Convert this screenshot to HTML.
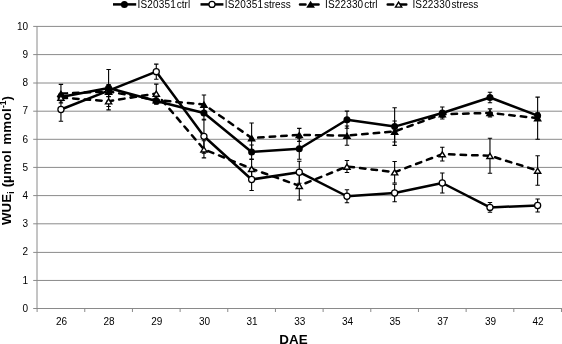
<!DOCTYPE html>
<html><head><meta charset="utf-8"><title>chart</title><style>html,body{margin:0;padding:0;background:#fff}body{width:562px;height:344px;overflow:hidden;font-family:"Liberation Sans",sans-serif}</style></head><body>
<svg width="562" height="344" viewBox="0 0 562 344" style="display:block;will-change:transform">
<rect width="562" height="344" fill="#fff"/>
<line x1="33.2" y1="280.45" x2="562" y2="280.45" stroke="#8a8a8a" stroke-width="1"/>
<line x1="33.2" y1="252.40" x2="562" y2="252.40" stroke="#8a8a8a" stroke-width="1"/>
<line x1="33.2" y1="223.80" x2="562" y2="223.80" stroke="#8a8a8a" stroke-width="1"/>
<line x1="33.2" y1="195.60" x2="562" y2="195.60" stroke="#8a8a8a" stroke-width="1"/>
<line x1="33.2" y1="167.40" x2="562" y2="167.40" stroke="#8a8a8a" stroke-width="1"/>
<line x1="33.2" y1="139.30" x2="562" y2="139.30" stroke="#8a8a8a" stroke-width="1"/>
<line x1="33.2" y1="111.20" x2="562" y2="111.20" stroke="#8a8a8a" stroke-width="1"/>
<line x1="33.2" y1="83.00" x2="562" y2="83.00" stroke="#8a8a8a" stroke-width="1"/>
<line x1="33.2" y1="54.60" x2="562" y2="54.60" stroke="#8a8a8a" stroke-width="1"/>
<line x1="33.2" y1="26.40" x2="562" y2="26.40" stroke="#8a8a8a" stroke-width="1"/>
<line x1="37.0" y1="26" x2="37.0" y2="309.0" stroke="#8a8a8a" stroke-width="1"/>
<line x1="33.2" y1="308.5" x2="562" y2="308.5" stroke="#8a8a8a" stroke-width="1"/>
<line x1="37.10" y1="308.5" x2="37.10" y2="312.0" stroke="#8a8a8a" stroke-width="1"/>
<line x1="84.77" y1="308.5" x2="84.77" y2="312.0" stroke="#8a8a8a" stroke-width="1"/>
<line x1="132.44" y1="308.5" x2="132.44" y2="312.0" stroke="#8a8a8a" stroke-width="1"/>
<line x1="180.11" y1="308.5" x2="180.11" y2="312.0" stroke="#8a8a8a" stroke-width="1"/>
<line x1="227.78" y1="308.5" x2="227.78" y2="312.0" stroke="#8a8a8a" stroke-width="1"/>
<line x1="275.45" y1="308.5" x2="275.45" y2="312.0" stroke="#8a8a8a" stroke-width="1"/>
<line x1="323.12" y1="308.5" x2="323.12" y2="312.0" stroke="#8a8a8a" stroke-width="1"/>
<line x1="370.79" y1="308.5" x2="370.79" y2="312.0" stroke="#8a8a8a" stroke-width="1"/>
<line x1="418.46" y1="308.5" x2="418.46" y2="312.0" stroke="#8a8a8a" stroke-width="1"/>
<line x1="466.13" y1="308.5" x2="466.13" y2="312.0" stroke="#8a8a8a" stroke-width="1"/>
<line x1="513.80" y1="308.5" x2="513.80" y2="312.0" stroke="#8a8a8a" stroke-width="1"/>
<line x1="561.47" y1="308.5" x2="561.47" y2="312.0" stroke="#8a8a8a" stroke-width="1"/>
<g font-family="Liberation Sans, sans-serif" font-size="10" fill="#000">
<text x="28" y="311.80" text-anchor="end">0</text>
<text x="28" y="283.60" text-anchor="end">1</text>
<text x="28" y="255.40" text-anchor="end">2</text>
<text x="28" y="227.20" text-anchor="end">3</text>
<text x="28" y="199.00" text-anchor="end">4</text>
<text x="28" y="170.80" text-anchor="end">5</text>
<text x="28" y="142.60" text-anchor="end">6</text>
<text x="28" y="114.40" text-anchor="end">7</text>
<text x="28" y="86.20" text-anchor="end">8</text>
<text x="28" y="58.00" text-anchor="end">9</text>
<text x="28" y="29.80" text-anchor="end">10</text>
<text x="61.44" y="325.3" text-anchor="middle">26</text>
<text x="109.10" y="325.3" text-anchor="middle">28</text>
<text x="156.78" y="325.3" text-anchor="middle">29</text>
<text x="204.44" y="325.3" text-anchor="middle">30</text>
<text x="252.12" y="325.3" text-anchor="middle">31</text>
<text x="299.79" y="325.3" text-anchor="middle">33</text>
<text x="347.46" y="325.3" text-anchor="middle">34</text>
<text x="395.13" y="325.3" text-anchor="middle">35</text>
<text x="442.80" y="325.3" text-anchor="middle">37</text>
<text x="490.47" y="325.3" text-anchor="middle">39</text>
<text x="538.13" y="325.3" text-anchor="middle">42</text>
</g>
<text x="293.5" y="343.5" text-anchor="middle" font-family="Liberation Sans, sans-serif" font-weight="bold" font-size="13.4">DAE</text>
<text transform="translate(11.2 225) rotate(-90)" font-family="Liberation Sans, sans-serif" font-weight="bold" font-size="13.3">WUE<tspan font-size="8.5" dy="2.5" dx="0.3">i</tspan><tspan dy="-2.5" dx="0.3"> (</tspan><tspan letter-spacing="0.45">µmol</tspan><tspan dx="1" letter-spacing="0.3"> mmol</tspan><tspan font-size="8.5" dy="-5">-1</tspan><tspan dy="5">)</tspan></text>
<path d="M60.94 93.50V100.50M58.73 93.50h4.4M58.73 100.50h4.4" stroke="#000" stroke-width="1.1" fill="none"/>
<path d="M108.60 69.50V106.50M106.40 69.50h4.4M106.40 106.50h4.4" stroke="#000" stroke-width="1.1" fill="none"/>
<path d="M156.28 98.00V104.00M154.08 98.00h4.4M154.08 104.00h4.4" stroke="#000" stroke-width="1.1" fill="none"/>
<path d="M203.94 106.00V120.00M201.75 106.00h4.4M201.75 120.00h4.4" stroke="#000" stroke-width="1.1" fill="none"/>
<path d="M251.62 145.00V159.00M249.42 145.00h4.4M249.42 159.00h4.4" stroke="#000" stroke-width="1.1" fill="none"/>
<path d="M299.29 138.25V159.25M297.09 138.25h4.4M297.09 159.25h4.4" stroke="#000" stroke-width="1.1" fill="none"/>
<path d="M346.96 111.10V128.30M344.76 111.10h4.4M344.76 128.30h4.4" stroke="#000" stroke-width="1.1" fill="none"/>
<path d="M394.63 107.80V145.40M392.43 107.80h4.4M392.43 145.40h4.4" stroke="#000" stroke-width="1.1" fill="none"/>
<path d="M442.30 107.00V119.00M440.10 107.00h4.4M440.10 119.00h4.4" stroke="#000" stroke-width="1.1" fill="none"/>
<path d="M489.97 92.30V102.70M487.77 92.30h4.4M487.77 102.70h4.4" stroke="#000" stroke-width="1.1" fill="none"/>
<path d="M537.63 112.70V118.70M535.43 112.70h4.4M535.43 118.70h4.4" stroke="#000" stroke-width="1.1" fill="none"/>
<path d="M60.94 97.80V121.20M58.73 97.80h4.4M58.73 121.20h4.4" stroke="#000" stroke-width="1.1" fill="none"/>
<path d="M108.60 84.60V96.60M106.40 84.60h4.4M106.40 96.60h4.4" stroke="#000" stroke-width="1.1" fill="none"/>
<path d="M156.28 64.10V79.30M154.08 64.10h4.4M154.08 79.30h4.4" stroke="#000" stroke-width="1.1" fill="none"/>
<path d="M203.94 119.30V153.30M201.75 119.30h4.4M201.75 153.30h4.4" stroke="#000" stroke-width="1.1" fill="none"/>
<path d="M251.62 168.50V190.50M249.42 168.50h4.4M249.42 190.50h4.4" stroke="#000" stroke-width="1.1" fill="none"/>
<path d="M299.29 161.20V183.20M297.09 161.20h4.4M297.09 183.20h4.4" stroke="#000" stroke-width="1.1" fill="none"/>
<path d="M346.96 189.75V202.75M344.76 189.75h4.4M344.76 202.75h4.4" stroke="#000" stroke-width="1.1" fill="none"/>
<path d="M394.63 184.30V201.70M392.43 184.30h4.4M392.43 201.70h4.4" stroke="#000" stroke-width="1.1" fill="none"/>
<path d="M442.30 173.00V193.00M440.10 173.00h4.4M440.10 193.00h4.4" stroke="#000" stroke-width="1.1" fill="none"/>
<path d="M489.97 202.55V212.25M487.77 202.55h4.4M487.77 212.25h4.4" stroke="#000" stroke-width="1.1" fill="none"/>
<path d="M537.63 199.00V212.00M535.43 199.00h4.4M535.43 212.00h4.4" stroke="#000" stroke-width="1.1" fill="none"/>
<path d="M60.94 84.40V102.90M58.73 84.40h4.4M58.73 102.90h4.4" stroke="#000" stroke-width="1.1" fill="none"/>
<path d="M108.60 86.50V96.50M106.40 86.50h4.4M106.40 96.50h4.4" stroke="#000" stroke-width="1.1" fill="none"/>
<path d="M156.28 96.00V104.00M154.08 96.00h4.4M154.08 104.00h4.4" stroke="#000" stroke-width="1.1" fill="none"/>
<path d="M203.94 95.00V114.00M201.75 95.00h4.4M201.75 114.00h4.4" stroke="#000" stroke-width="1.1" fill="none"/>
<path d="M251.62 123.00V153.00M249.42 123.00h4.4M249.42 153.00h4.4" stroke="#000" stroke-width="1.1" fill="none"/>
<path d="M299.29 128.40V141.40M297.09 128.40h4.4M297.09 141.40h4.4" stroke="#000" stroke-width="1.1" fill="none"/>
<path d="M346.96 126.00V145.20M344.76 126.00h4.4M344.76 145.20h4.4" stroke="#000" stroke-width="1.1" fill="none"/>
<path d="M394.63 121.00V142.00M392.43 121.00h4.4M392.43 142.00h4.4" stroke="#000" stroke-width="1.1" fill="none"/>
<path d="M442.30 111.20V117.20M440.10 111.20h4.4M440.10 117.20h4.4" stroke="#000" stroke-width="1.1" fill="none"/>
<path d="M489.97 108.90V116.90M487.77 108.90h4.4M487.77 116.90h4.4" stroke="#000" stroke-width="1.1" fill="none"/>
<path d="M537.63 97.10V139.30M535.43 97.10h4.4M535.43 139.30h4.4" stroke="#000" stroke-width="1.1" fill="none"/>
<path d="M60.94 94.60V100.60M58.73 94.60h4.4M58.73 100.60h4.4" stroke="#000" stroke-width="1.1" fill="none"/>
<path d="M108.60 92.50V109.90M106.40 92.50h4.4M106.40 109.90h4.4" stroke="#000" stroke-width="1.1" fill="none"/>
<path d="M156.28 84.10V102.90M154.08 84.10h4.4M154.08 102.90h4.4" stroke="#000" stroke-width="1.1" fill="none"/>
<path d="M203.94 140.70V157.90M201.75 140.70h4.4M201.75 157.90h4.4" stroke="#000" stroke-width="1.1" fill="none"/>
<path d="M251.62 159.50V178.00M249.42 159.50h4.4M249.42 178.00h4.4" stroke="#000" stroke-width="1.1" fill="none"/>
<path d="M299.29 171.50V200.00M297.09 171.50h4.4M297.09 200.00h4.4" stroke="#000" stroke-width="1.1" fill="none"/>
<path d="M346.96 160.50V172.50M344.76 160.50h4.4M344.76 172.50h4.4" stroke="#000" stroke-width="1.1" fill="none"/>
<path d="M394.63 161.45V182.95M392.43 161.45h4.4M392.43 182.95h4.4" stroke="#000" stroke-width="1.1" fill="none"/>
<path d="M442.30 147.20V161.00M440.10 147.20h4.4M440.10 161.00h4.4" stroke="#000" stroke-width="1.1" fill="none"/>
<path d="M489.97 138.25V173.25M487.77 138.25h4.4M487.77 173.25h4.4" stroke="#000" stroke-width="1.1" fill="none"/>
<path d="M537.63 155.80V185.20M535.43 155.80h4.4M535.43 185.20h4.4" stroke="#000" stroke-width="1.1" fill="none"/>
<polyline points="60.94,109.50 108.60,90.60 156.28,71.70 203.94,136.30 251.62,179.50 299.29,172.20 346.96,196.25 394.63,193.00 442.30,183.00 489.97,207.40 537.63,205.50" fill="none" stroke="#000" stroke-width="2.5" stroke-linejoin="round"/>
<circle cx="60.94" cy="109.50" r="3.05" fill="#fff" stroke="#000" stroke-width="1.25"/>
<circle cx="108.60" cy="90.60" r="3.05" fill="#fff" stroke="#000" stroke-width="1.25"/>
<circle cx="156.28" cy="71.70" r="3.05" fill="#fff" stroke="#000" stroke-width="1.25"/>
<circle cx="203.94" cy="136.30" r="3.05" fill="#fff" stroke="#000" stroke-width="1.25"/>
<circle cx="251.62" cy="179.50" r="3.05" fill="#fff" stroke="#000" stroke-width="1.25"/>
<circle cx="299.29" cy="172.20" r="3.05" fill="#fff" stroke="#000" stroke-width="1.25"/>
<circle cx="346.96" cy="196.25" r="3.05" fill="#fff" stroke="#000" stroke-width="1.25"/>
<circle cx="394.63" cy="193.00" r="3.05" fill="#fff" stroke="#000" stroke-width="1.25"/>
<circle cx="442.30" cy="183.00" r="3.05" fill="#fff" stroke="#000" stroke-width="1.25"/>
<circle cx="489.97" cy="207.40" r="3.05" fill="#fff" stroke="#000" stroke-width="1.25"/>
<circle cx="537.63" cy="205.50" r="3.05" fill="#fff" stroke="#000" stroke-width="1.25"/>
<polyline points="60.94,97.00 108.60,88.00 156.28,101.00 203.94,113.00 251.62,152.00 299.29,148.75 346.96,119.70 394.63,126.60 442.30,113.00 489.97,97.50 537.63,115.70" fill="none" stroke="#000" stroke-width="2.5" stroke-linejoin="round"/>
<circle cx="60.94" cy="97.00" r="3.5" fill="#000"/>
<circle cx="108.60" cy="88.00" r="3.5" fill="#000"/>
<circle cx="156.28" cy="101.00" r="3.5" fill="#000"/>
<circle cx="203.94" cy="113.00" r="3.5" fill="#000"/>
<circle cx="251.62" cy="152.00" r="3.5" fill="#000"/>
<circle cx="299.29" cy="148.75" r="3.5" fill="#000"/>
<circle cx="346.96" cy="119.70" r="3.5" fill="#000"/>
<circle cx="394.63" cy="126.60" r="3.5" fill="#000"/>
<circle cx="442.30" cy="113.00" r="3.5" fill="#000"/>
<circle cx="489.97" cy="97.50" r="3.5" fill="#000"/>
<circle cx="537.63" cy="115.70" r="3.5" fill="#000"/>
<polyline points="60.94,93.65 108.60,91.50 156.28,100.00 203.94,104.50 251.62,138.00 299.29,134.90 346.96,135.60 394.63,131.50 442.30,114.20 489.97,112.90 537.63,118.20" fill="none" stroke="#000" stroke-width="2.5" stroke-linejoin="round" stroke-dasharray="5.5 6.07" stroke-dashoffset="-0.6" stroke-linecap="round"/>
<path d="M60.94 91.35L64.03 96.35H57.84Z" fill="#000" stroke="#000" stroke-width="1.4"/>
<path d="M108.60 89.20L111.70 94.20H105.50Z" fill="#000" stroke="#000" stroke-width="1.4"/>
<path d="M156.28 97.70L159.38 102.70H153.18Z" fill="#000" stroke="#000" stroke-width="1.4"/>
<path d="M203.94 102.20L207.04 107.20H200.84Z" fill="#000" stroke="#000" stroke-width="1.4"/>
<path d="M251.62 135.70L254.72 140.70H248.52Z" fill="#000" stroke="#000" stroke-width="1.4"/>
<path d="M299.29 132.60L302.39 137.60H296.19Z" fill="#000" stroke="#000" stroke-width="1.4"/>
<path d="M346.96 133.30L350.06 138.30H343.86Z" fill="#000" stroke="#000" stroke-width="1.4"/>
<path d="M394.63 129.20L397.73 134.20H391.53Z" fill="#000" stroke="#000" stroke-width="1.4"/>
<path d="M442.30 111.90L445.40 116.90H439.19Z" fill="#000" stroke="#000" stroke-width="1.4"/>
<path d="M489.97 110.60L493.07 115.60H486.87Z" fill="#000" stroke="#000" stroke-width="1.4"/>
<path d="M537.63 115.90L540.74 120.90H534.53Z" fill="#000" stroke="#000" stroke-width="1.4"/>
<polyline points="60.94,97.60 108.60,101.20 156.28,93.50 203.94,149.30 251.62,168.75 299.29,185.75 346.96,166.50 394.63,172.20 442.30,154.10 489.97,155.75 537.63,170.50" fill="none" stroke="#000" stroke-width="2.5" stroke-linejoin="round" stroke-dasharray="5.5 6.07" stroke-dashoffset="-0.6" stroke-linecap="round"/>
<path d="M60.94 95.30L64.03 100.30H57.84Z" fill="#fff" stroke="#000" stroke-width="1.4"/>
<path d="M108.60 98.90L111.70 103.90H105.50Z" fill="#fff" stroke="#000" stroke-width="1.4"/>
<path d="M156.28 91.20L159.38 96.20H153.18Z" fill="#fff" stroke="#000" stroke-width="1.4"/>
<path d="M203.94 147.00L207.04 152.00H200.84Z" fill="#fff" stroke="#000" stroke-width="1.4"/>
<path d="M251.62 166.45L254.72 171.45H248.52Z" fill="#fff" stroke="#000" stroke-width="1.4"/>
<path d="M299.29 183.45L302.39 188.45H296.19Z" fill="#fff" stroke="#000" stroke-width="1.4"/>
<path d="M346.96 164.20L350.06 169.20H343.86Z" fill="#fff" stroke="#000" stroke-width="1.4"/>
<path d="M394.63 169.90L397.73 174.90H391.53Z" fill="#fff" stroke="#000" stroke-width="1.4"/>
<path d="M442.30 151.80L445.40 156.80H439.19Z" fill="#fff" stroke="#000" stroke-width="1.4"/>
<path d="M489.97 153.45L493.07 158.45H486.87Z" fill="#fff" stroke="#000" stroke-width="1.4"/>
<path d="M537.63 168.20L540.74 173.20H534.53Z" fill="#fff" stroke="#000" stroke-width="1.4"/>
<line x1="113" y1="4.4" x2="136.2" y2="4.4" stroke="#000" stroke-width="2.5"/>
<circle cx="124.40" cy="4.40" r="3.5" fill="#000"/>
<text x="137.6" y="7.8" font-family="Liberation Sans, sans-serif" font-size="10"><tspan letter-spacing="0.15">IS20351</tspan><tspan dx="0.9">ctrl</tspan></text>
<line x1="200.5" y1="4.4" x2="223.4" y2="4.4" stroke="#000" stroke-width="2.5"/>
<circle cx="212.00" cy="4.40" r="3.05" fill="#fff" stroke="#000" stroke-width="1.25"/>
<text x="224.8" y="7.8" font-family="Liberation Sans, sans-serif" font-size="10"><tspan letter-spacing="0.15">IS20351</tspan><tspan dx="0.9">stress</tspan></text>
<path d="M300.0 4.4h5.5M312.1 4.4h6.5" stroke="#000" stroke-width="2.5" stroke-linecap="round" fill="none"/>
<path d="M310.60 2.10L313.70 7.10H307.50Z" fill="#000" stroke="#000" stroke-width="1.4"/>
<text x="325" y="7.8" font-family="Liberation Sans, sans-serif" font-size="10"><tspan letter-spacing="0.15">IS22330</tspan><tspan dx="0.9">ctrl</tspan></text>
<path d="M387.7 4.4h5.5M399.8 4.4h6.5" stroke="#000" stroke-width="2.5" stroke-linecap="round" fill="none"/>
<path d="M398.60 2.10L401.70 7.10H395.50Z" fill="#fff" stroke="#000" stroke-width="1.4"/>
<text x="412.4" y="7.8" font-family="Liberation Sans, sans-serif" font-size="10"><tspan letter-spacing="0.15">IS22330</tspan><tspan dx="0.9">stress</tspan></text>
</svg>
</body></html>
